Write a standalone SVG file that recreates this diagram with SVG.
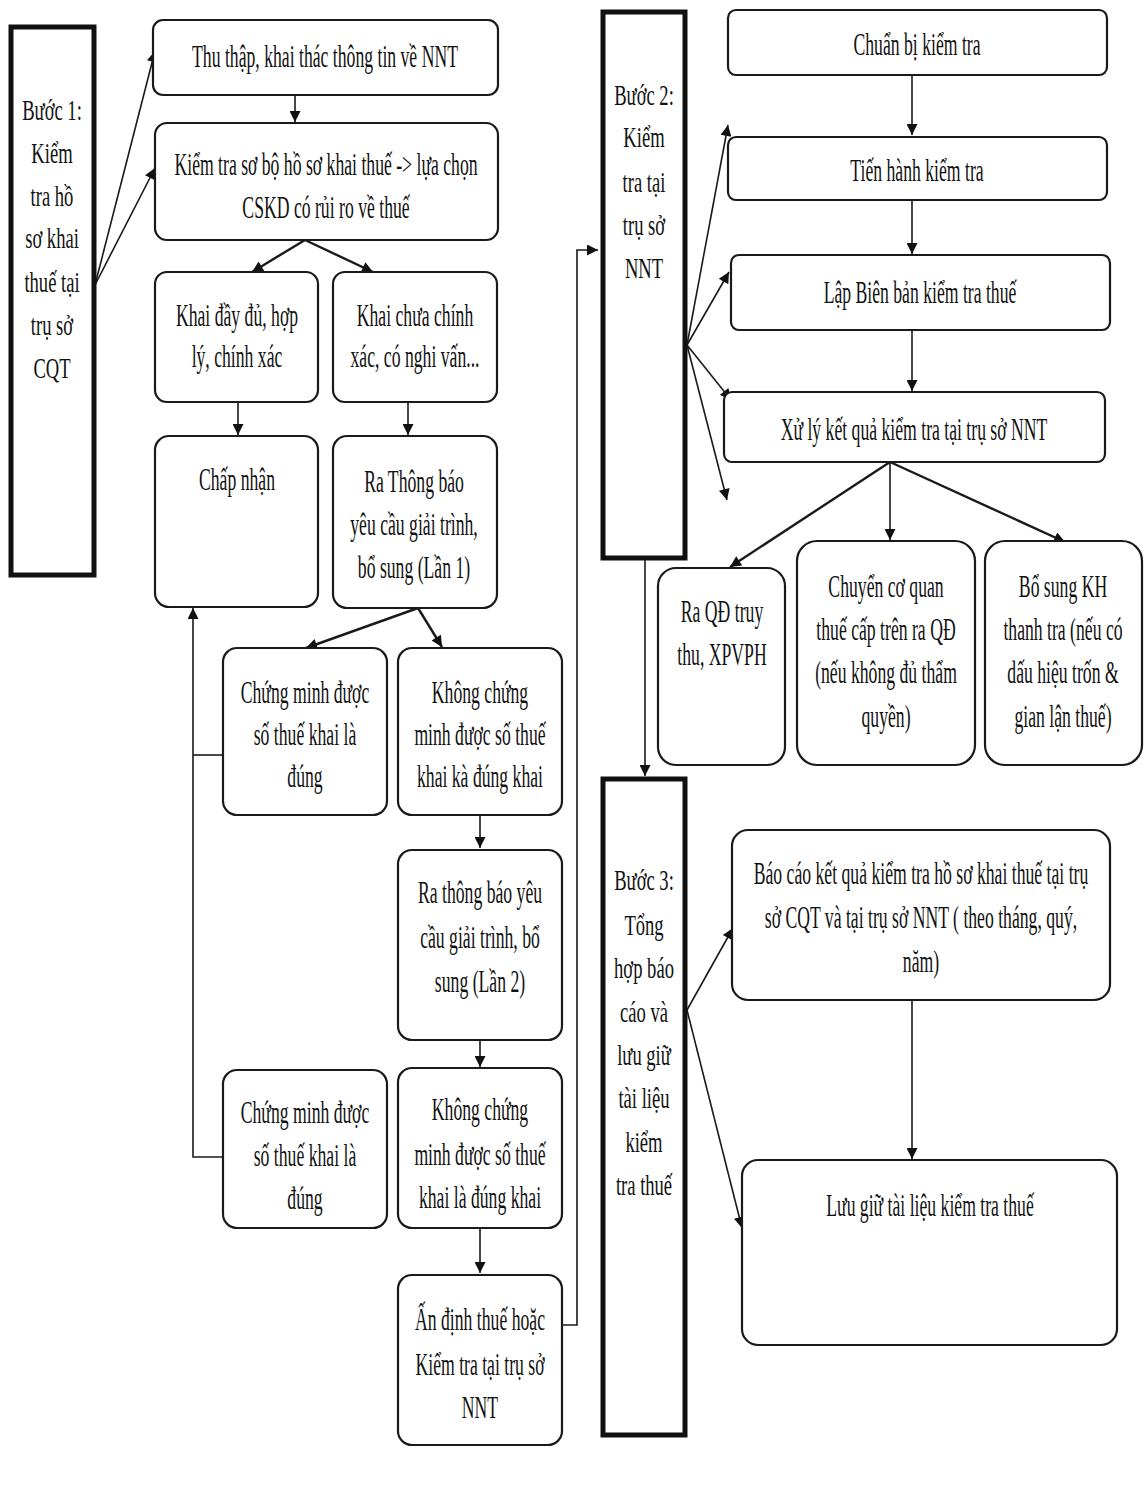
<svg xmlns="http://www.w3.org/2000/svg" width="1147" height="1487" viewBox="0 0 1147 1487">
<defs>
<style>
.bx{fill:#fff;stroke:#1a1a1a;stroke-width:2.2}
.st{fill:#fff;stroke:#111;stroke-width:5}
.t{font-family:"Liberation Serif","Times New Roman",serif;font-size:31px;fill:#111;text-anchor:middle}
.ts{font-family:"Liberation Serif","Times New Roman",serif;font-size:30px;fill:#111;text-anchor:middle}
.ln{fill:none;stroke:#1a1a1a;stroke-width:1.6}
.lnb{fill:none;stroke:#1a1a1a;stroke-width:2.4}
</style>
<marker id="ah" viewBox="0 0 10 10" refX="10" refY="5" markerWidth="13" markerHeight="11" markerUnits="userSpaceOnUse" orient="auto">
<path d="M0,0 L10,5 L0,10 z" fill="#111"/>
</marker>
</defs>
<rect width="1147" height="1487" fill="#fff"/>

<g id="connectors">
<line class="ln" x1="95" y1="285" x2="155" y2="51" marker-end="url(#ah)"/>
<line class="ln" x1="95" y1="285" x2="155" y2="168" marker-end="url(#ah)"/>
<line class="ln" x1="295" y1="95" x2="295" y2="122" marker-end="url(#ah)"/>
<line class="lnb" x1="305" y1="240" x2="252" y2="272" marker-end="url(#ah)"/>
<line class="lnb" x1="305" y1="240" x2="373" y2="272" marker-end="url(#ah)"/>
<line class="ln" x1="238" y1="402" x2="238" y2="435" marker-end="url(#ah)"/>
<line class="ln" x1="408" y1="402" x2="408" y2="435" marker-end="url(#ah)"/>
<line class="lnb" x1="418" y1="608" x2="306" y2="648" marker-end="url(#ah)"/>
<line class="lnb" x1="418" y1="608" x2="442" y2="647" marker-end="url(#ah)"/>
<polyline class="ln" points="223,755 193,755"/>
<polyline class="ln" points="223,1157 193,1157 193,608" marker-end="url(#ah)"/>
<line class="ln" x1="480" y1="815" x2="480" y2="848" marker-end="url(#ah)"/>
<line class="ln" x1="480" y1="1040" x2="480" y2="1067" marker-end="url(#ah)"/>
<line class="ln" x1="480" y1="1228" x2="480" y2="1273" marker-end="url(#ah)"/>
<polyline class="ln" points="562,1325 577,1325 577,250 598,250" marker-end="url(#ah)"/>
<line class="ln" x1="687" y1="345" x2="728" y2="125" marker-end="url(#ah)"/>
<line class="ln" x1="687" y1="345" x2="729" y2="272" marker-end="url(#ah)"/>
<line class="ln" x1="687" y1="345" x2="731" y2="400" marker-end="url(#ah)"/>
<line class="ln" x1="687" y1="345" x2="727" y2="500" marker-end="url(#ah)"/>
<line class="ln" x1="912" y1="75" x2="912" y2="135" marker-end="url(#ah)"/>
<line class="ln" x1="912" y1="200" x2="912" y2="254" marker-end="url(#ah)"/>
<line class="ln" x1="912" y1="330" x2="912" y2="391" marker-end="url(#ah)"/>
<line class="lnb" x1="890" y1="462" x2="730" y2="567" marker-end="url(#ah)"/>
<line class="ln" x1="890" y1="462" x2="890" y2="540" marker-end="url(#ah)"/>
<line class="lnb" x1="890" y1="462" x2="1065" y2="542" marker-end="url(#ah)"/>
<line class="ln" x1="645" y1="560" x2="645" y2="776" marker-end="url(#ah)"/>
<line class="ln" x1="687" y1="1010" x2="733" y2="928" marker-end="url(#ah)"/>
<line class="ln" x1="687" y1="1010" x2="742" y2="1228" marker-end="url(#ah)"/>
<line class="ln" x1="912" y1="1000" x2="912" y2="1159" marker-end="url(#ah)"/>
</g>

<g id="step1">
<rect class="st" x="11" y="27" width="83" height="548"/>
<text class="ts" transform="translate(52,0) scale(0.62,1)"><tspan x="0" y="120">Bước 1:</tspan><tspan x="0" y="163">Kiểm</tspan><tspan x="0" y="206">tra hồ</tspan><tspan x="0" y="248">sơ khai</tspan><tspan x="0" y="292">thuế tại</tspan><tspan x="0" y="335">trụ sở</tspan><tspan x="0" y="378">CQT</tspan></text>
</g>
<g id="n-thuthap">
<rect class="bx" x="153" y="20" width="345" height="75" rx="10"/>
<text class="t" transform="translate(325,0) scale(0.57,1)"><tspan x="0" y="67">Thu thập, khai thác thông tin về NNT</tspan></text>
</g>
<g id="n-kiemtrasobo">
<rect class="bx" x="155" y="123" width="343" height="117" rx="12"/>
<text class="t" transform="translate(326,0) scale(0.57,1)"><tspan x="0" y="175">Kiểm tra sơ bộ hồ sơ khai thuế -&gt; lựa chọn</tspan><tspan x="0" y="218">CSKD có rủi ro về thuế</tspan></text>
</g>
<g id="n-khaiday">
<rect class="bx" x="155" y="272" width="163" height="130" rx="12"/>
<text class="t" transform="translate(237,0) scale(0.57,1)"><tspan x="0" y="326">Khai đầy đủ, hợp</tspan><tspan x="0" y="367">lý, chính xác</tspan></text>
</g>
<g id="n-khaichua">
<rect class="bx" x="333" y="272" width="164" height="130" rx="12"/>
<text class="t" transform="translate(415,0) scale(0.57,1)"><tspan x="0" y="326">Khai chưa chính</tspan><tspan x="0" y="367">xác, có nghi vấn...</tspan></text>
</g>
<g id="n-chapnhan">
<rect class="bx" x="155" y="436" width="163" height="171" rx="14"/>
<text class="t" transform="translate(237,0) scale(0.57,1)"><tspan x="0" y="490">Chấp nhận</tspan></text>
</g>
<g id="n-rathongbao1">
<rect class="bx" x="333" y="436" width="164" height="172" rx="14"/>
<text class="t" transform="translate(414,0) scale(0.57,1)"><tspan x="0" y="492">Ra Thông báo</tspan><tspan x="0" y="535">yêu cầu giải trình,</tspan><tspan x="0" y="578">bổ sung (Lần 1)</tspan></text>
</g>
<g id="n-chungminh1">
<rect class="bx" x="223" y="648" width="164" height="167" rx="14"/>
<text class="t" transform="translate(305,0) scale(0.57,1)"><tspan x="0" y="703">Chứng minh được</tspan><tspan x="0" y="745">số thuế khai là</tspan><tspan x="0" y="787">đúng</tspan></text>
</g>
<g id="n-khongchung1">
<rect class="bx" x="398" y="648" width="164" height="167" rx="14"/>
<text class="t" transform="translate(480,0) scale(0.57,1)"><tspan x="0" y="703">Không chứng</tspan><tspan x="0" y="745">minh được số thuế</tspan><tspan x="0" y="787">khai kà đúng khai</tspan></text>
</g>
<g id="n-rathongbao2">
<rect class="bx" x="398" y="850" width="164" height="190" rx="14"/>
<text class="t" transform="translate(480,0) scale(0.57,1)"><tspan x="0" y="903">Ra thông báo yêu</tspan><tspan x="0" y="948">cầu giải trình, bổ</tspan><tspan x="0" y="992">sung (Lần 2)</tspan></text>
</g>
<g id="n-chungminh2">
<rect class="bx" x="223" y="1070" width="164" height="158" rx="14"/>
<text class="t" transform="translate(305,0) scale(0.57,1)"><tspan x="0" y="1123">Chứng minh được</tspan><tspan x="0" y="1166">số thuế khai là</tspan><tspan x="0" y="1209">đúng</tspan></text>
</g>
<g id="n-khongchung2">
<rect class="bx" x="398" y="1068" width="164" height="160" rx="14"/>
<text class="t" transform="translate(480,0) scale(0.57,1)"><tspan x="0" y="1120">Không chứng</tspan><tspan x="0" y="1165">minh được số thuế</tspan><tspan x="0" y="1208">khai là đúng khai</tspan></text>
</g>
<g id="n-andinh">
<rect class="bx" x="398" y="1275" width="164" height="170" rx="14"/>
<text class="t" transform="translate(480,0) scale(0.57,1)"><tspan x="0" y="1330">Ấn định thuế hoặc</tspan><tspan x="0" y="1375">Kiểm tra tại trụ sở</tspan><tspan x="0" y="1418">NNT</tspan></text>
</g>

<g id="step2">
<rect class="st" x="603" y="12" width="82" height="546"/>
<text class="ts" transform="translate(644,0) scale(0.62,1)"><tspan x="0" y="105">Bước 2:</tspan><tspan x="0" y="147">Kiểm</tspan><tspan x="0" y="192">tra tại</tspan><tspan x="0" y="235">trụ sở</tspan><tspan x="0" y="278">NNT</tspan></text>
</g>
<g id="n-chuanbi">
<rect class="bx" x="728" y="10" width="379" height="65" rx="8"/>
<text class="t" transform="translate(917,0) scale(0.57,1)"><tspan x="0" y="55">Chuẩn bị kiểm tra</tspan></text>
</g>
<g id="n-tienhanh">
<rect class="bx" x="728" y="137" width="379" height="63" rx="8"/>
<text class="t" transform="translate(917,0) scale(0.57,1)"><tspan x="0" y="181">Tiến hành kiểm tra</tspan></text>
</g>
<g id="n-lapbienban">
<rect class="bx" x="731" y="255" width="379" height="75" rx="8"/>
<text class="t" transform="translate(920,0) scale(0.57,1)"><tspan x="0" y="303">Lập Biên bản kiểm tra thuế</tspan></text>
</g>
<g id="n-xuly">
<rect class="bx" x="724" y="392" width="381" height="70" rx="8"/>
<text class="t" transform="translate(914,0) scale(0.57,1)"><tspan x="0" y="440">Xử lý kết quả kiểm tra tại trụ sở NNT</tspan></text>
</g>
<g id="n-raqd">
<rect class="bx" x="658" y="568" width="127" height="197" rx="18"/>
<text class="t" transform="translate(722,0) scale(0.57,1)"><tspan x="0" y="622">Ra QĐ truy</tspan><tspan x="0" y="665">thu, XPVPH</tspan></text>
</g>
<g id="n-chuyen">
<rect class="bx" x="797" y="541" width="178" height="224" rx="20"/>
<text class="t" transform="translate(886,0) scale(0.57,1)"><tspan x="0" y="597">Chuyển cơ quan</tspan><tspan x="0" y="640">thuế cấp trên ra QĐ</tspan><tspan x="0" y="683">(nếu không đủ thẩm</tspan><tspan x="0" y="727">quyền)</tspan></text>
</g>
<g id="n-bosung">
<rect class="bx" x="985" y="541" width="157" height="224" rx="20"/>
<text class="t" transform="translate(1063,0) scale(0.57,1)"><tspan x="0" y="597">Bổ sung KH</tspan><tspan x="0" y="640">thanh tra (nếu có</tspan><tspan x="0" y="683">dấu hiệu trốn &amp;</tspan><tspan x="0" y="727">gian lận thuế)</tspan></text>
</g>

<g id="step3">
<rect class="st" x="603" y="779" width="82" height="656"/>
<text class="ts" transform="translate(644,0) scale(0.62,1)"><tspan x="0" y="890">Bước 3:</tspan><tspan x="0" y="935">Tổng</tspan><tspan x="0" y="978">hợp báo</tspan><tspan x="0" y="1022">cáo và</tspan><tspan x="0" y="1065">lưu giữ</tspan><tspan x="0" y="1108">tài liệu</tspan><tspan x="0" y="1152">kiểm</tspan><tspan x="0" y="1195">tra thuế</tspan></text>
</g>
<g id="n-baocao">
<rect class="bx" x="732" y="830" width="378" height="170" rx="16"/>
<text class="t" transform="translate(921,0) scale(0.57,1)"><tspan x="0" y="884">Báo cáo kết quả kiểm tra hồ sơ khai thuế tại trụ</tspan><tspan x="0" y="928">sở CQT và tại trụ sở NNT ( theo tháng, quý,</tspan><tspan x="0" y="972">năm)</tspan></text>
</g>
<g id="n-luugiu">
<rect class="bx" x="742" y="1160" width="375" height="185" rx="16"/>
<text class="t" transform="translate(930,0) scale(0.57,1)"><tspan x="0" y="1216">Lưu giữ tài liệu kiểm tra thuế</tspan></text>
</g>
</svg>
